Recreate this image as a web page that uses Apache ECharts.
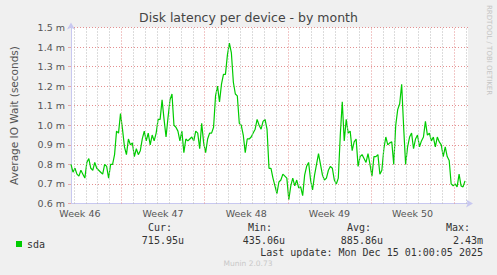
<!DOCTYPE html>
<html>
<head>
<meta charset="utf-8">
<script src="https://cdn.jsdelivr.net/npm/echarts@6/dist/echarts.min.js"></script>
<style>
html,body{margin:0;padding:0;background:#f0f0f0;}
#chart{width:497px;height:275px;}
</style>
</head>
<body>
<div id="chart"></div>
<script>
// ---- data (milliseconds of average IO wait, one sample every 4 hours) ----
const sampleStepHours = 4;
const latencyMs = [
  0.80,0.76,0.78,0.75,0.74,0.77,0.75,0.73,0.81,0.83,0.78,0.77,0.81,0.78,0.77,0.76,0.75,0.80,0.79,0.73,
  0.80,0.80,0.85,0.97,0.96,1.06,0.98,0.89,0.85,0.93,0.90,0.91,0.84,0.88,0.85,0.87,0.93,0.97,0.92,0.96,
  0.90,0.95,
  0.92,0.96,1.03,1.03,1.13,1.03,0.94,1.04,1.13,1.16,1.00,0.99,0.97,0.92,0.97,0.86,0.93,0.92,0.93,0.94,
  0.92,0.97,0.96,0.88,1.01,0.91,0.86,0.93,0.96,0.96,0.99,1.15,1.20,1.12,1.21,1.26,1.26,1.36,1.42,1.37,
  1.22,1.16,1.15,1.01,1.00,0.95,0.86,0.93,0.93,0.94,0.96,0.98,1.03,1.00,0.98,1.02,1.03,0.98,0.78,0.78,
  0.73,0.69,0.65,0.71,0.72,0.75,0.74,0.73,0.62,0.69,0.73,0.69,0.72,0.68,0.685,0.64,0.745,0.79,0.81,0.72,
  0.67,0.745,0.80,
  0.855,0.80,0.745,0.72,0.73,0.77,0.79,0.78,0.72,0.70,0.73,0.95,1.12,0.92,1.03,0.96,0.97,0.87,0.915,0.93,
  0.79,0.84,0.85,0.83,0.81,0.855,0.80,0.74,0.84,0.84,0.85,0.75,0.77,0.88,0.94,0.90,0.91,0.915,0.80,1.00,
  1.08,1.11,
  1.21,0.99,0.80,0.89,0.94,0.96,0.88,0.93,0.95,0.89,0.92,0.94,1.02,0.95,0.96,0.92,0.94,0.89,0.94,0.915,
  0.90,0.84,0.89,0.84,0.82,0.70,0.69,0.70,0.685,0.75,0.69,0.685,0.716
];
const axisEndHour = 802;
const dayLineHours = [];          // midnight of each day inside the window
for (let h = 6; h <= axisEndHour; h += 24) dayLineHours.push(h);
const weekStartHours = [102, 270, 438, 606, 774];
const weekLabelHours = [18, 186, 354, 522, 690];
const weekLabels = ['Week 46', 'Week 47', 'Week 48', 'Week 49', 'Week 50'];
const yTicks = [0.6, 1.5, 0.1];   // min, max, step (ms)

const legendHeaders = ['Cur:', 'Min:', 'Avg:', 'Max:'];
const legendValues = ['715.95u', '435.06u', '885.86u', '2.43m'];
const lastUpdate = 'Last update: Mon Dec 15 01:00:05 2025';

// ---- chart ----
const seriesData = latencyMs.map((v, i) => [i * sampleStepHours, v]);
const dayOnly = dayLineHours.filter(h => weekStartHours.indexOf(h) < 0);
const mono = 'DejaVu Sans Mono';
const sans = 'DejaVu Sans';

const headerRight = [172, 272, 371, 470];
const valueRight = [184, 285, 383, 483];
const graphics = [];
legendHeaders.forEach((t, i) => graphics.push({
  type: 'text', x: headerRight[i], y: 227.5,
  style: {text: t, fontFamily: mono, fontSize: 10, fill: '#333', align: 'right', verticalAlign: 'middle'}
}));
legendValues.forEach((t, i) => graphics.push({
  type: 'text', x: valueRight[i], y: 240,
  style: {text: t, fontFamily: mono, fontSize: 10, fill: '#333', align: 'right', verticalAlign: 'middle'}
}));
graphics.push({
  type: 'text', x: 483, y: 252,
  style: {text: lastUpdate, fontFamily: mono, fontSize: 10, fill: '#333', align: 'right', verticalAlign: 'middle'}
});
graphics.push({
  type: 'text', x: 248, y: 263.5,
  style: {text: 'Munin 2.0.73', fontFamily: sans, fontSize: 7.5, fill: '#c8c8c8', align: 'center', verticalAlign: 'middle'}
});
graphics.push({
  type: 'text', x: 488.5, y: 5, rotation: -Math.PI / 2,
  style: {text: 'RRDTOOL / TOBI OETIKER', fontFamily: sans, fontSize: 7, fill: '#c4c4c4', align: 'left', verticalAlign: 'middle'}
});

const chart = echarts.init(document.getElementById('chart'), null, {renderer: 'svg'});
chart.setOption({
  animation: false,
  backgroundColor: '#f0f0f0',
  title: {
    text: 'Disk latency per device - by month',
    left: 'center', top: 6,
    textStyle: {fontFamily: sans, fontSize: 12.5, fontWeight: 'normal', color: '#444'}
  },
  legend: {
    data: ['sda'], left: 11, top: 234, icon: 'rect', itemWidth: 6, itemHeight: 6, itemGap: 5,
    textStyle: {fontFamily: mono, fontSize: 10, color: '#333'}
  },
  grid: {left: 67, right: 29, top: 27.5, bottom: 71.5, show: true, backgroundColor: '#ffffff', borderWidth: 0},
  xAxis: {
    type: 'value', min: 0, max: axisEndHour,
    axisLine: {show: true, lineStyle: {color: '#c8c8f0', width: 1}, symbol: ['none', 'arrow'], symbolSize: [6, 7], symbolOffset: [0, 5]},
    axisTick: {show: false},
    splitLine: {show: false},
    axisLabel: {
      customValues: weekLabelHours,
      formatter: v => weekLabels[weekLabelHours.indexOf(v)] || '',
      fontFamily: sans, fontSize: 9.5, color: '#555', margin: 5
    }
  },
  yAxis: {
    type: 'value', min: yTicks[0], max: yTicks[1], interval: yTicks[2],
    name: 'Average IO Wait (seconds)', nameLocation: 'middle', nameRotate: 90, nameGap: 52,
    nameTextStyle: {fontFamily: sans, fontSize: 10.5, color: '#555'},
    axisLine: {show: true, lineStyle: {color: '#c8c8f0', width: 1}, symbol: ['none', 'arrow'], symbolSize: [6, 7], symbolOffset: [0, 5]},
    axisTick: {show: true, length: 3, lineStyle: {color: '#e8a8a8'}},
    axisLabel: {formatter: v => v.toFixed(1) + ' m', fontFamily: sans, fontSize: 9.5, color: '#555', margin: 6},
    splitLine: {show: true, lineStyle: {color: '#e49090', type: [1, 2], width: 1}}
  },
  graphic: graphics,
  series: [
    {
      name: 'days', type: 'line', data: [], z: 1, silent: true,
      markLine: {
        silent: true, symbol: 'none', label: {show: false},
        lineStyle: {color: '#b8b8b8', type: [1, 2], width: 1},
        data: dayOnly.map(h => ({xAxis: h}))
      }
    },
    {
      name: 'weeks', type: 'line', data: [], z: 1, silent: true,
      markLine: {
        silent: true, symbol: 'none', label: {show: false},
        lineStyle: {color: '#e49090', type: [1, 2], width: 1},
        data: weekStartHours.map(h => ({xAxis: h}))
      }
    },
    {
      name: 'sda', type: 'line', data: seriesData, z: 3,
      showSymbol: false, smooth: false,
      lineStyle: {color: '#00cc00', width: 1.2},
      itemStyle: {color: '#00cc00'}
    }
  ]
});
</script>
</body>
</html>
